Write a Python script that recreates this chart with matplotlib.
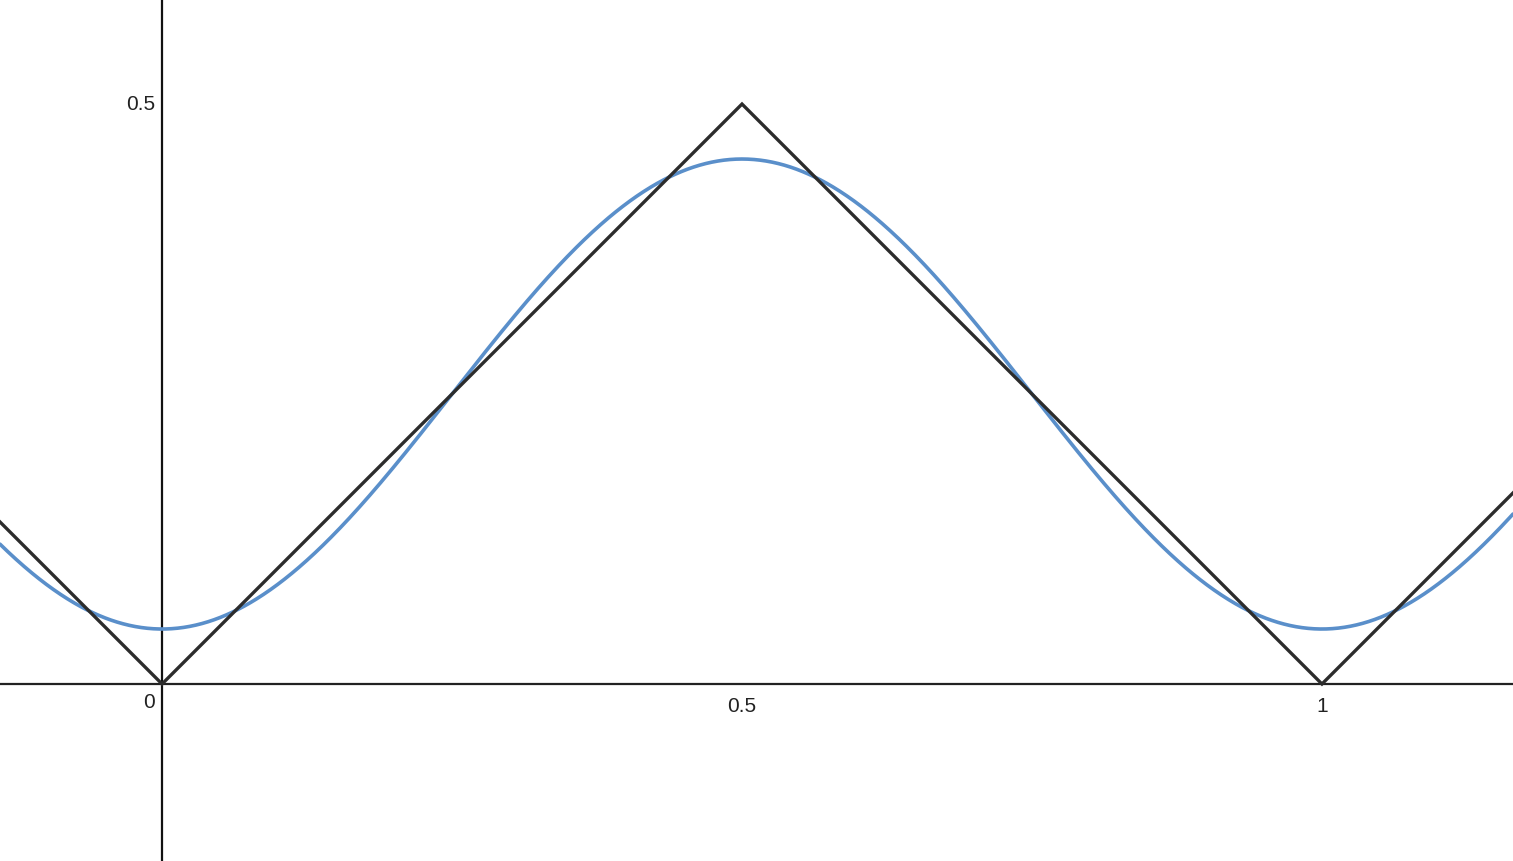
import numpy as np
import matplotlib.pyplot as plt

# triangle wave corners (x, y)
tri_x = [-0.28, 0.0, 0.5, 1.0, 1.5]
tri_y = [0.28, 0.0, 0.5, 0.0, 0.5]

# smooth curve: first Fourier term of the triangle wave, read from min/max
curve_mean = 0.25       # midline
curve_amp = 0.2026      # min ~0.048, max ~0.453
curve_period = 1.0

xtick_vals = [0.5, 1]
xtick_labels = ['0.5', '1']
ytick_vals = [0.5]
ytick_labels = ['0.5']

xlim = (-0.1397, 1.1647)
ylim = (-0.1526, 0.5897)

plt.rcParams['font.family'] = ['Liberation Sans', 'DejaVu Sans']

fig = plt.figure(figsize=(15.13, 8.61), dpi=100)
ax = fig.add_axes([0, 0, 1, 1])
ax.set_xlim(*xlim)
ax.set_ylim(*ylim)
ax.axis('off')

# axes through the origin
ax.axhline(0, color='#222222', lw=1.6, zorder=1)
ax.axvline(0, color='#111111', lw=1.6, zorder=1)

xs = np.linspace(xlim[0], xlim[1], 1500)
ys = curve_mean - curve_amp * np.cos(2 * np.pi * xs / curve_period)
ax.plot(xs, ys, color='#5a8fca', lw=2.6, zorder=2, solid_capstyle='round')
ax.plot(tri_x, tri_y, color='#2c2c2c', lw=2.4, zorder=3, solid_joinstyle='miter')

fs = 15
ax.text(-0.006, -0.008, '0', ha='right', va='top', fontsize=fs, color='#222222')
for v, lab in zip(xtick_vals, xtick_labels):
    ax.text(v, -0.011, lab, ha='center', va='top', fontsize=fs, color='#222222')
for v, lab in zip(ytick_vals, ytick_labels):
    ax.text(-0.006, v, lab, ha='right', va='center', fontsize=fs, color='#222222')

fig.savefig('out.png', dpi=100, facecolor='white')
